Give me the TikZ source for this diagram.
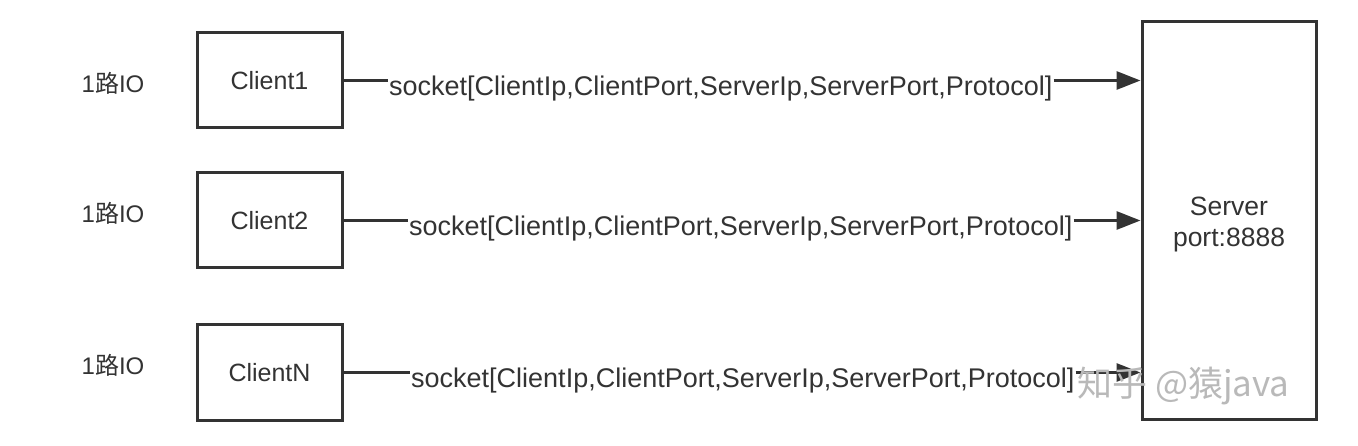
\documentclass[tikz,border=0pt]{standalone}
\usepackage{fontspec}
\setmainfont{Liberation Sans}
\newfontfamily\cjk{Noto Sans CJK SC}
\usetikzlibrary{arrows.meta}
\definecolor{ink}{HTML}{333333}
\begin{document}
\begin{tikzpicture}[x=1pt,y=-1pt,
  box/.style={draw=ink,line width=3pt,minimum width=145pt,minimum height=95pt,inner sep=0pt,text=ink,font=\fontsize{25}{30}\selectfont},
  sock/.style={anchor=base west,inner sep=1pt,text=ink,font=\fontsize{27}{30}\selectfont},
  srvtxt/.style={anchor=base,inner sep=0pt,text=ink,font=\fontsize{26.5}{30}\selectfont},
  conn/.style={draw=ink,line width=3pt},
  arr/.style={conn,-{Triangle[length=24pt,width=18pt]}},
  io/.style={text=ink,font=\fontsize{24}{28}\selectfont,inner sep=0pt}]
\useasboundingbox[fill=white] (0,0) rectangle (1358,446);
\node[box] (c1) at (269.5,80.5) {Client1};
\node[box] (c2) at (269.5,220.5) {Client2};
\node[box] (cN) at (269.5,372.5) {ClientN};
\node[box,minimum width=174pt,minimum height=397pt] (srv) at (1229,220.5) {};
\node[srvtxt] (srvname) at (1229,216) {Server};
\node[srvtxt] (srvport) at (1229,247) {port:8888};
\node[io] (io1) at (113,83) {1{\cjk 路}IO};
\node[io] (io2) at (113,213) {1{\cjk 路}IO};
\node[io] (io3) at (113,365) {1{\cjk 路}IO};
\node[sock] (s1) at (388,96) {socket[ClientIp,ClientPort,ServerIp,ServerPort,Protocol]};
\node[sock] (s2) at (408,236) {socket[ClientIp,ClientPort,ServerIp,ServerPort,Protocol]};
\node[sock] (s3) at (410,388) {socket[ClientIp,ClientPort,ServerIp,ServerPort,Protocol]};
\draw[conn] (c1.east) -- (s1.west |- c1.east);
\draw[conn] (c2.east) -- (s2.west |- c2.east);
\draw[conn] (cN.east) -- (s3.west |- cN.east);
\draw[arr] (s1.east |- c1.east) -- (srv.west |- c1.east);
\draw[arr] (s2.east |- c2.east) -- (srv.west |- c2.east);
\draw[arr] (s3.east |- cN.east) -- (srv.west |- cN.east);
\node[text=gray!55,font=\cjk\fontsize{35}{38}\selectfont,anchor=west,inner sep=0pt] (wm) at (1077,386) {知乎 @猿java};
\end{tikzpicture}
\end{document}
